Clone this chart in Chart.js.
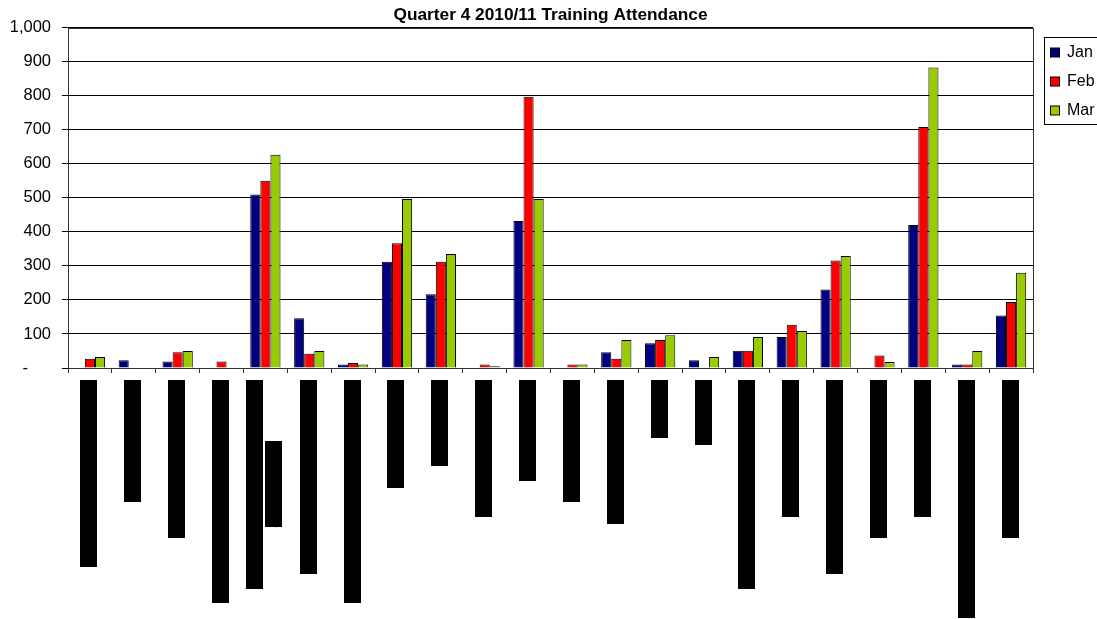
<!DOCTYPE html>
<html>
<head>
<meta charset="utf-8">
<script src="https://cdn.jsdelivr.net/npm/chart.js@4.4.1/dist/chart.umd.min.js"></script>
<style>
  html, body { margin: 0; padding: 0; background: #ffffff; }
  #wrap { width: 1097px; height: 619px; }
</style>
</head>
<body>
<div id="wrap"><canvas id="chart" width="1097" height="619"></canvas></div>
<script>
// Attendance figures per course, one array per month
const chartTitle = 'Quarter 4 2010/11 Training Attendance';
const months = ['Jan', 'Feb', 'Mar'];
const categories = [
  'Conflict Resolution Skills',
  'Customer Services',
  'Basic Life Support CPR',
  'Safeguarding Children Level One',
  ['Moving and Handling of People', 'All Sessions'],
  'Infection Prevention Basics',
  'Medicines Management Foundation',
  'Food Hygiene L2',
  'Fire Marshal',
  'Clinical Governance',
  'Stress at Work',
  'Mentorship Skills',
  'Equality & Diversity',
  'Coaching',
  'Induction',
  'Information Governance Update',
  'Appraisal Workshops',
  'Corporate Induction Day One',
  'Dementia Awareness Day',
  'Health & Safety Law',
  'Mental Health Awareness Programme',
  'Leadership Development'
];
const janValues = [0, 23, 19, 0, 510, 146, 10, 312, 217, 0, 432, 0, 46, 73, 23, 51, 91, 231, 0, 420, 10, 154];
const febValues = [27, 0, 46, 19, 550, 42, 15, 367, 312, 10, 797, 10, 27, 82, 0, 51, 127, 316, 37, 708, 10, 194];
const marValues = [32, 0, 50, 0, 627, 50, 10, 497, 335, 5, 497, 10, 82, 96, 32, 91, 109, 329, 18, 883, 50, 280];
const yTickValues = [0, 100, 200, 300, 400, 500, 600, 700, 800, 900, 1000];
const yTickLabels = ['-     ', '100', '200', '300', '400', '500', '600', '700', '800', '900', '1,000'];

const seriesColors = ['#000080', '#FF0000', '#99CC00'];
const FONT = '"Liberation Sans", Arial, sans-serif';

// Rotated category names, set on solid black blocks under the axis
const categoryBlocks = {
  id: 'categoryBlocks',
  afterDraw(chart) {
    const ctx = chart.ctx;
    const xs = chart.scales.x;
    const top = chart.chartArea.bottom + 12;
    const thick = 17, gap = 2;
    ctx.save();
    ctx.font = '12px "Liberation Mono", monospace';
    chart.data.labels.forEach((label, i) => {
      const lines = Array.isArray(label) ? label : [label];
      const widths = lines.map(l => ctx.measureText(l).width);
      const maxW = Math.max(...widths);
      const total = lines.length * thick + (lines.length - 1) * gap;
      const cx = xs.getPixelForValue(i) - 1;
      const x0 = Math.round(cx - total / 2);
      lines.forEach((line, j) => {
        const lx = x0 + j * (thick + gap);
        const ly = Math.round(top + (maxW - widths[j]) / 2);
        ctx.fillStyle = '#000000';
        ctx.fillRect(lx, ly, thick, Math.round(widths[j]));
        ctx.save();
        ctx.translate(lx + thick / 2, ly + widths[j]);
        ctx.rotate(-Math.PI / 2);
        ctx.textAlign = 'left';
        ctx.textBaseline = 'middle';
        ctx.fillText(line, 0, 0);
        ctx.restore();
      });
    });
    ctx.restore();
  }
};

// Framed legend on the right-hand side
const legendBox = {
  id: 'legendBox',
  afterDraw(chart) {
    const ctx = chart.ctx;
    const left = chart.chartArea.right + 12;
    ctx.save();
    ctx.strokeStyle = '#000000';
    ctx.lineWidth = 1;
    ctx.strokeRect(left - 0.5, 37.5, 90, 87);
    ctx.font = '16px ' + FONT;
    ctx.textBaseline = 'middle';
    ctx.textAlign = 'left';
    chart.data.datasets.forEach((ds, i) => {
      const cy = 52.5 + i * 29;
      ctx.fillStyle = ds.backgroundColor;
      ctx.fillRect(left + 5, cy - 4.5, 10, 9);
      ctx.strokeStyle = '#000000';
      ctx.strokeRect(left + 5.5, cy - 4.5, 9, 9);
      ctx.fillStyle = '#000000';
      ctx.fillText(ds.label, left + 22, cy);
    });
    ctx.restore();
  }
};

// Outline of the plot area
const plotFrame = {
  id: 'plotFrame',
  beforeDatasetsDraw(chart) {
    const { left, top, right, bottom } = chart.chartArea;
    const ctx = chart.ctx;
    ctx.save();
    ctx.strokeStyle = '#333333';
    ctx.lineWidth = 1;
    ctx.strokeRect(Math.round(left) + 0.5, Math.round(top) + 0.5,
                   Math.round(right - left), Math.round(bottom - top));
    ctx.restore();
  }
};

const monthData = [janValues, febValues, marValues];

new Chart(document.getElementById('chart'), {
  type: 'bar',
  data: {
    labels: categories,
    datasets: months.map((m, i) => ({
      label: m,
      data: monthData[i],
      backgroundColor: seriesColors[i],
      borderColor: '#000000',
      borderWidth: 1
    }))
  },
  options: {
    responsive: false,
    animation: false,
    devicePixelRatio: 1,
    layout: { padding: { left: 0, right: 64, top: 0, bottom: 0 } },
    datasets: { bar: { categoryPercentage: 0.69, barPercentage: 1.0 } },
    plugins: {
      legend: { display: false },
      tooltip: { enabled: false },
      title: {
        display: true,
        text: chartTitle,
        fullSize: false,
        color: '#000000',
        font: { family: FONT, size: 17.3, weight: 'bold' },
        padding: { top: 5, bottom: 2 }
      }
    },
    scales: {
      x: {
        grid: { drawOnChartArea: false, drawTicks: true, tickLength: 5, color: '#333333' },
        border: { color: '#000000' },
        ticks: { display: false },
        afterFit(scale) { scale.height = 251; }
      },
      y: {
        min: 0,
        max: 1000,
        afterBuildTicks(scale) { scale.ticks = yTickValues.map(v => ({ value: v })); },
        ticks: {
          color: '#000000',
          font: { family: FONT, size: 16.5 },
          padding: 11,
          callback: (v) => yTickLabels[yTickValues.indexOf(v)]
        },
        grid: { color: '#000000', tickLength: 6 },
        border: { color: '#000000' },
        afterFit(scale) { scale.width = 68; }
      }
    }
  },
  plugins: [plotFrame, categoryBlocks, legendBox]
});
</script>
</body>
</html>
